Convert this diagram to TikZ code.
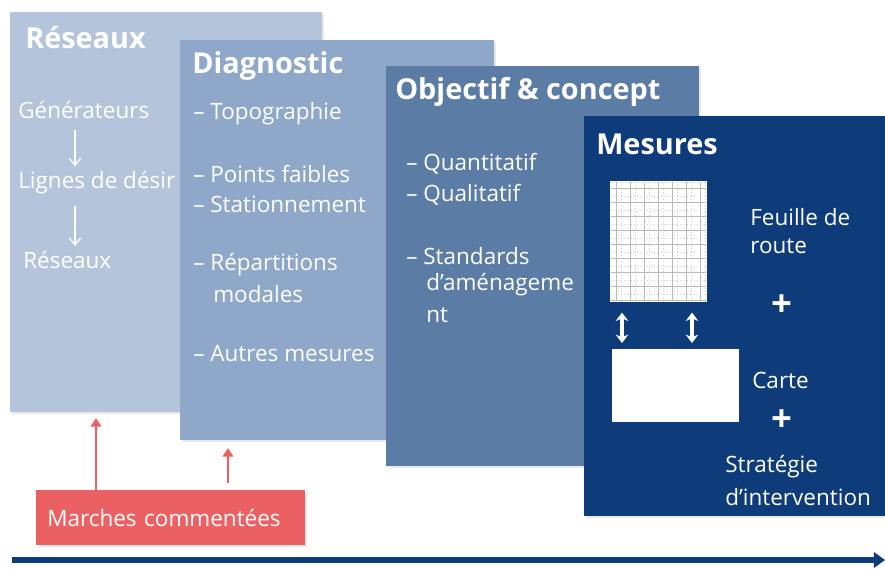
\documentclass[tikz,border=0pt]{standalone}
\usepackage{fontspec}
\setmainfont{Open Sans}
\usepackage{xcolor}
\usetikzlibrary{arrows.meta, positioning, calc, shadows}

\definecolor{resblue}{HTML}{B4C5DB}
\definecolor{diagblue}{HTML}{8FA8C9}
\definecolor{objblue}{HTML}{5B7CA5}
\definecolor{mesblue}{HTML}{0E3B7A}
\definecolor{walkred}{HTML}{EB6163}

\begin{document}
\begin{tikzpicture}[
    x=0.025cm, y=-0.025cm,
    %% Stage panels
    panel/.style = {
      anchor=north west, inner sep=0pt, outer sep=0pt,
      minimum width=7.85cm, minimum height=10cm,
      drop shadow={opacity=0.18, shadow xshift=1.5pt, shadow yshift=-1.5pt}},
    head/.style = {anchor=west, inner sep=0pt, text=white,
      font=\fontsize{20.5}{24}\selectfont\bfseries},
    item/.style = {anchor=west, inner sep=0pt, text=white,
      font=\fontsize{16}{19}\selectfont},
    %% Arrows
    downarr/.style = {-{Straight Barb[length=5pt, width=8pt]}, line width=0.9pt, white},
    dblarr/.style  = {{Stealth[length=6pt, width=9pt]}-{Stealth[length=6pt, width=9pt]},
      line width=2.6pt, white},
    redarr/.style  = {-{Triangle[length=6pt, width=7.5pt]}, line width=2.1pt, walkred},
    timearr/.style = {-{Triangle[length=8pt, width=11pt]}, line width=4pt, mesblue},
  ]
  \useasboundingbox (0,0) rectangle (885,572);

  %% ── Panels, back to front ───────────────────────────────────────────
  \node[panel, fill=resblue, minimum width=7.8cm]  (res)  at (10,12)  {};
  \node[panel, fill=diagblue]                      (diag) at (180,40) {};
  \node[panel, fill=objblue, minimum width=7.82cm] (obj)  at (386,66) {};
  \node[panel, fill=mesblue]                       (mes)  at (584,116) {};

  %% ── Réseaux ─────────────────────────────────────────────────────────
  \node[head] (resT) at ($(res.north west)+(15,26)$) {Réseaux};
  \node[item] (gen)  at (18,110) {Générateurs};
  \node[item] (lig)  at (18,183) {Lignes de désir};
  \node[item] (rzo)  at (23,260) {Réseaux};
  \draw[downarr] ($(gen.south west)+(57,11)$) -- ($(lig.north west)+(57,-5)$);
  \draw[downarr] ($(lig.south west)+(57,11)$) -- ($(rzo.north west)+(52,-5)$);

  %% ── Diagnostic ──────────────────────────────────────────────────────
  \node[head] (diagT) at ($(diag.north west)+(12,26)$) {Diagnostic};
  \node[item] (d1) at (193,114) {– Topographie};
  \node[item] (d2) at (193,174) {– Points faibles};
  \node[item] (d3) at (193,204) {– Stationnement};
  \node[item] (d4) at (193,265) {– Répartitions};
  \node[item] (d5) at (213,294) {modales};
  \node[item] (d6) at (193,354) {– Autres mesures};

  %% ── Objectif & concept ──────────────────────────────────────────────
  \node[head] (objT) at ($(obj.north west)+(9,26)$) {Objectif \& concept};
  \node[item] (o1) at (406,164) {– Quantitatif};
  \node[item] (o2) at (406,195) {– Qualitatif};
  \node[item] (o3) at (406,256) {– Standards};
  \node[item] (o4) at (426,285) {d’aménageme};
  \node[item] (o5) at (426,315) {nt};

  %% ── Mesures ─────────────────────────────────────────────────────────
  \node[head] (mesT) at ($(mes.north west)+(12,28)$) {Mesures};

  % road-map sheet with its grid
  \node[anchor=north west, inner sep=0pt, fill=white,
        minimum width=2.425cm, minimum height=3.025cm] (sheet) at (610,181) {};
  \foreach \gx in {616,630,644,658,672,686,700} {
    \draw[gray!55, line width=0.35pt] (\gx,182) -- (\gx,301);
    \draw[gray!40, line width=0.35pt, dotted] (\gx+5,182) -- (\gx+5,301);
  }
  \foreach \gy in {188,202,216,230,244,258,272,286,300} {
    \draw[gray!55, line width=0.35pt] (611,\gy) -- (706,\gy);
    \draw[gray!40, line width=0.35pt, dotted] (611,\gy-6) -- (706,\gy-6);
  }

  % map
  \node[anchor=north west, inner sep=0pt, fill=white,
        minimum width=3.175cm, minimum height=1.825cm] (card) at (612,349) {};

  \draw[dblarr] ($(sheet.south west)+(12,10)$) -- ($(card.north west)+(10,-6)$);
  \draw[dblarr] ($(sheet.south west)+(82,10)$) -- ($(card.north west)+(80,-6)$);

  \node[item] (m1) at (750,217) {Feuille de};
  \node[item] (m2) at (750,246) {route};
  \node[item, font=\fontsize{26}{28}\selectfont\bfseries] (plus1) at (771,306) {+};
  \node[item] (m3) at (752,380) {Carte};
  \node[item, font=\fontsize{26}{28}\selectfont\bfseries] (plus2) at (771,421) {+};
  \node[item] (m4) at (725,467) {Stratégie};
  \node[item] (m5) at (725,497) {d’intervention};

  %% ── Guided walks ────────────────────────────────────────────────────
  \node[anchor=north west, fill=walkred, text=white, inner xsep=0.275cm,
        text width=6.175cm, minimum height=1.375cm, align=left,
        font=\fontsize{16}{19}\selectfont,
        drop shadow={opacity=0.18, shadow xshift=1.2pt, shadow yshift=-1.2pt}]
        (walk) at (36,490) {Marches commentées};
  \draw[redarr] ($(walk.north west)+(60,0)$) -- ($(res.south west)+(86,6)$);
  \draw[redarr] ($(walk.north west)+(192,-7)$) -- ($(diag.south west)+(48,8)$);

  %% ── Time line ───────────────────────────────────────────────────────
  \coordinate (tStart) at (12,560);
  \coordinate (tEnd)   at (885,560);
  \draw[timearr] (tStart) -- (tEnd);

\end{tikzpicture}
\end{document}
